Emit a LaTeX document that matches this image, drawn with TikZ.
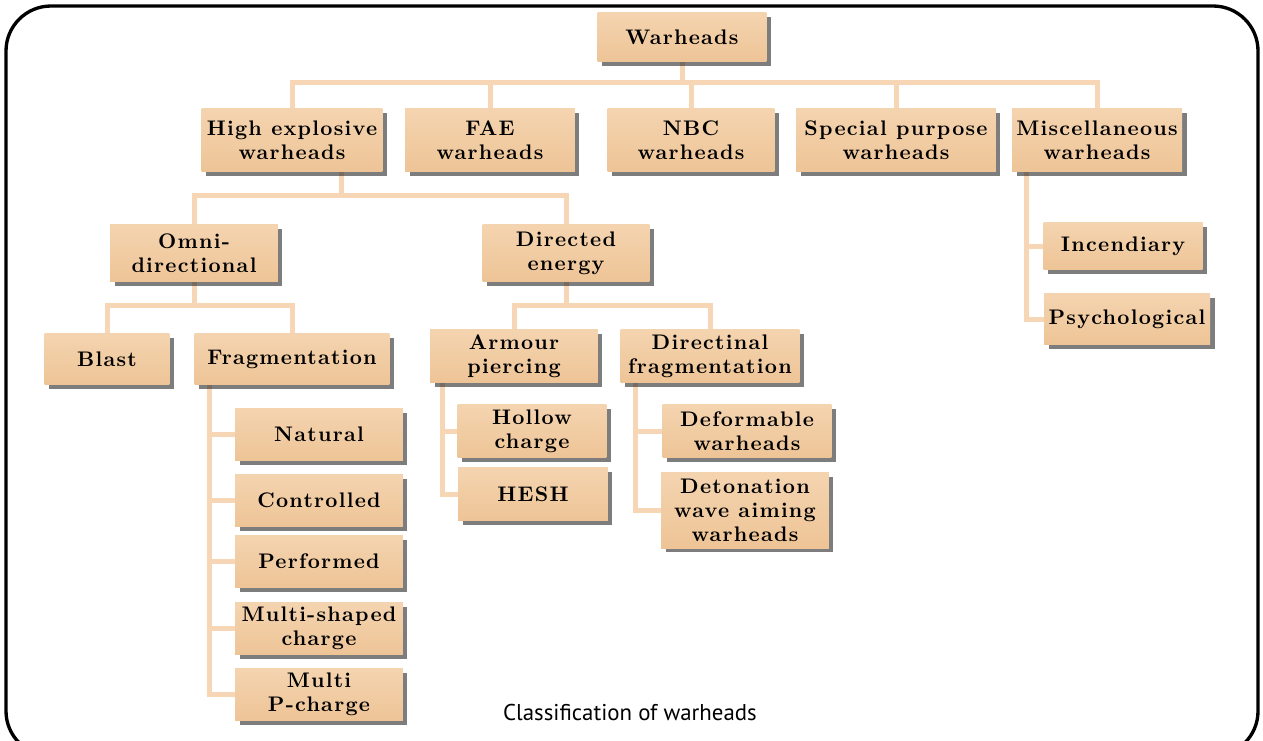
\documentclass[tikz,border=0pt]{standalone}
\usepackage{fontspec}
\usepackage{tikz}
\usetikzlibrary{shadows,backgrounds}
\newfontfamily\capfont{PT Sans}
\newfontfamily\boxfont{lmroman10-bold.otf}[LetterSpace=6]
\definecolor{boxfill}{RGB}{238,196,150}
\definecolor{boxtop}{RGB}{244,212,176}
\definecolor{linkcol}{RGB}{246,214,180}

\begin{document}
\begin{tikzpicture}[x=0.02cm, y=-0.02cm,
    box/.style={top color=boxtop, bottom color=boxfill, align=center, inner sep=1pt,
        drop shadow={shadow xshift=0.09cm, shadow yshift=-0.09cm, fill=black!85, opacity=0.6},
        font=\boxfont\fontsize{12}{13.6}\selectfont},
    link/.style={draw=linkcol, line width=0.1cm}]
    \useasboundingbox (0,0) rectangle (1263,740);
    % Frame
    \begin{scope}
        \clip (0,0) rectangle (1263,740);
        \draw[line width=1.9pt, rounded corners=0.9cm] (6,6) rectangle (1258,756);
    \end{scope}
    % Root
    \node[box, minimum width=3.38cm, minimum height=1cm] (Root) at (682,37) {Warheads};
    % Warhead types
    \foreach \name/\i/\x/\w in {High explosive\\warheads/1/292/3.62, FAE\\warheads/2/490/3.4,
        NBC\\warheads/3/691/3.34, Special purpose\\warheads/4/896/4.0, Miscellaneous\\warheads/5/1097/3.4} {
        \node[box, minimum width=\w cm, minimum height=1.28cm] (Type-\i) at (\x,140) {\name};
    }
    % High explosive
    \node[box, minimum width=3.36cm, minimum height=1.14cm] (HE-1) at (194,253) {Omni-\\directional};
    \node[box, minimum width=3.34cm, minimum height=1.14cm] (HE-2) at (566,253) {Directed\\energy};
    % Omni-directional
    \node[box, minimum width=2.5cm, minimum height=1.04cm] (Omni-1) at (107,359) {Blast};
    \node[box, minimum width=3.9cm, minimum height=1.04cm] (Omni-2) at (292,359) {Fragmentation};
    % Directed energy
    \node[box, minimum width=3.36cm, minimum height=1.06cm] (Dir-1) at (514,356) {Armour\\piercing};
    \node[box, minimum width=3.58cm, minimum height=1.06cm] (Dir-2) at (710,356) {Directinal\\fragmentation};
    % Fragmentation
    \foreach \name/\i/\y in {Natural/1/434, Controlled/2/500, Performed/3/561,
        Multi-shaped\\charge/4/628, Multi\\P-charge/5/694} {
        \node[box, minimum width=3.36cm, minimum height=1.04cm] (Frag-\i) at (319,\y) {\name};
    }
    % Armour piercing
    \node[box, minimum width=2.98cm, minimum height=1.06cm] (Arm-1) at (532,431) {Hollow\\charge};
    \node[box, minimum width=3.0cm, minimum height=1.06cm] (Arm-2) at (533,494) {HESH};
    % Directinal fragmentation
    \node[box, minimum width=3.38cm, minimum height=1.06cm] (Dfr-1) at (747,431) {Deformable\\warheads};
    \node[box, minimum width=3.36cm, minimum height=1.52cm] (Dfr-2) at (745,510) {Detonation\\wave aiming\\warheads};
    % Miscellaneous
    \node[box, minimum width=3.18cm, minimum height=0.96cm] (Misc-1) at (1123,246) {Incendiary};
    \node[box, minimum width=3.32cm, minimum height=1.04cm] (Misc-2) at (1127,319) {Psychological};
    % Caption
    \node[font=\capfont\fontsize{13}{15}\selectfont] (Caption) at (630,712) {Classification of warheads};
    % Links
    \begin{scope}[on background layer]
        \foreach \i in {1,...,5} {
            \draw[link] (Root.south) -- ++(0,20) -| (Type-\i.north);
        }
        \foreach \i in {1,2} {
            \draw[link] ([xshift=1cm]Type-1.south) -- ++(0,23) -| (HE-\i.north);
            \draw[link] (HE-1.south) -- ++(0,24) -| (Omni-\i.north);
            \draw[link] (HE-2.south) -- ++(0,24) -| (Dir-\i.north);
            \draw[link] ([xshift=-1.44cm]Dir-1.south) |- (Arm-\i.west);
            \draw[link] ([xshift=-1.49cm]Dir-2.south) |- (Dfr-\i.west);
            \draw[link] ([xshift=-1.42cm]Type-5.south) |- (Misc-\i.west);
        }
        \foreach \i in {1,...,5} {
            \draw[link] ([xshift=-1.65cm]Omni-2.south) |- (Frag-\i.west);
        }
    \end{scope}
\end{tikzpicture}
\end{document}
